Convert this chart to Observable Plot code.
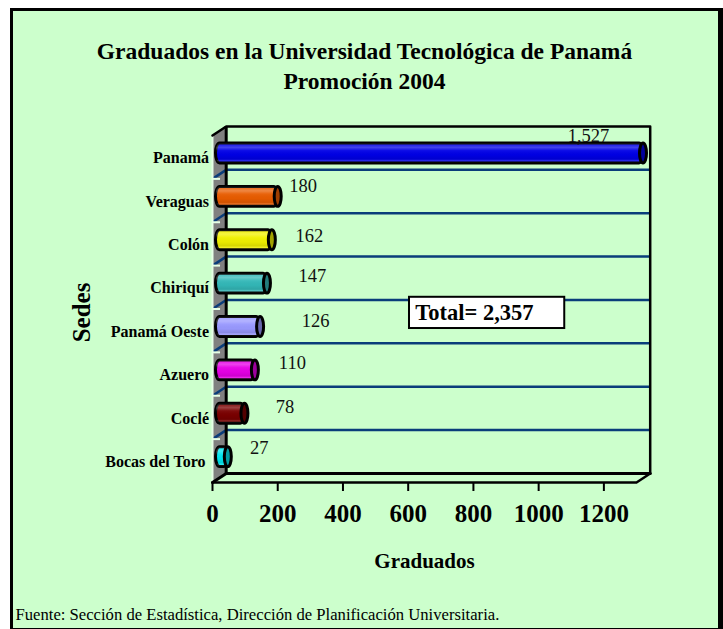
<!DOCTYPE html>
<html lang="es">
<head>
<meta charset="utf-8">
<title>Graduados en la Universidad Tecnológica de Panamá</title>
<script src="https://cdn.jsdelivr.net/npm/d3@7"></script>
<script src="https://cdn.jsdelivr.net/npm/@observablehq/plot@0.6"></script>
<style>
  html, body { margin: 0; padding: 0; background: #fff; width: 723px; height: 629px; overflow: hidden; }
  #panel { position: absolute; left: 10px; top: 8px; right: 0; bottom: 0; box-sizing: border-box;
           background: #ccffcc; border-style: solid; border-color: #000; border-width: 3px 5px 1px 3px; }
  #chart { position: absolute; left: 0; top: 0; }
  #chart svg { display: block; }
</style>
</head>
<body>
<div id="panel"></div>
<div id="chart"></div>
<script>
const categories = ["Panamá", "Veraguas", "Colón", "Chiriquí", "Panamá Oeste", "Azuero", "Coclé", "Bocas del Toro"];
const graduados = [1527, 180, 162, 147, 126, 110, 78, 27];
const barColors = ["#0000e6", "#e85c00", "#f0f000", "#33b8b8", "#9999ff", "#e600e6", "#7a0000", "#00e6f0"];
const xTicks = [0, 200, 400, 600, 800, 1000, 1200];
const titleLines = ["Graduados en la Universidad Tecnológica de Panamá", "Promoción 2004"];
const totalLabel = "Total= 2,357";
const xTitle = "Graduados";
const yTitle = "Sedes";
const source = "Fuente: Sección de Estadística, Dirección de Planificación Universitaria.";

const axisMax = 1300;            // the axis stops here: the longest bar is cut off at it
const depthX = 42, depthY = 0.2075; // depth of the 3-D box, in data units
const rows = d3.range(1, 8);
const data = categories.map((sede, i) => ({
  sede, row: i, value: graduados[i], color: barColors[i],
  cap: d3.color(barColors[i]).darker(1.1).formatHex()
}));
const barEnd = d => Math.min(d.value, axisMax);

// placement of each value label relative to its bar end, in pixels
const labelNudge = [[-48, -21], [32, -14], [44, -7.5], [52, -11], [62, -10], [44, -10.6], [47, -10], [38, -13]];

const sheen = () => {
  const defs = d3.create("svg:defs");
  const g = defs.append("linearGradient").attr("id", "sheen").attr("x1", 0).attr("y1", 0).attr("x2", 0).attr("y2", 1);
  [[0, "#fff", 0.04], [0.22, "#fff", 0.26], [0.38, "#fff", 0.05], [0.6, "#000", 0.02],
   [0.8, "#000", 0.1], [0.88, "#fff", 0.16], [1, "#000", 0.1]]
    .forEach(([o, c, a]) => g.append("stop").attr("offset", o).attr("stop-color", c).attr("stop-opacity", a));
  return defs.node();
};

const ink = "#000";
const bars = { y1: d => d.row + 0.27, y2: d => d.row + 0.73, dx: 7, dy: -3.7 };

const chart = Plot.plot({
  width: 723, height: 629,
  marginLeft: 212, marginRight: 87, marginTop: 135, marginBottom: 147,
  style: { background: "transparent", fontFamily: "'Liberation Serif', 'Times New Roman', serif", color: ink },
  x: { domain: [0, axisMax], label: null },
  y: { domain: [8, 0], label: null },
  color: { type: "identity" },
  marks: [
    sheen,
    // left wall
    Plot.line([[0, 0], [depthX, -depthY], [depthX, 8 - depthY], [0, 8]], { fill: "#808080", stroke: "none" }),
    Plot.link(rows, { x1: 0, y1: r => r, x2: depthX, y2: r => r - depthY, stroke: "#0a3d7a", strokeWidth: 2.5 }),
    Plot.ruleY(rows, { x1: depthX, x2: axisMax + depthX, y: r => r - depthY, stroke: "#0a3d7a", strokeWidth: 2.5 }),
    Plot.ruleX([0], { y1: 0, y2: 8, stroke: "#e6ffe6", strokeWidth: 2 }),
    Plot.link(rows, { x1: 0, y1: r => r, x2: depthX * 0.55, y2: r => r, stroke: "#e6ffe6", strokeWidth: 2 }),
    // box outline
    Plot.line([[0, 0], [depthX, -depthY], [axisMax + depthX, -depthY], [axisMax + depthX, 8 - depthY]],
      { stroke: ink, strokeWidth: 2.5 }),
    Plot.ruleX([depthX], { y1: -depthY, y2: 8 - depthY, stroke: ink, strokeWidth: 3 }),
    Plot.line([[0, 8], [depthX, 8 - depthY], [axisMax + depthX, 8 - depthY]], { stroke: ink, strokeWidth: 3 }),
    Plot.line([[0, 8], [axisMax, 8], [axisMax + depthX, 8 - depthY]], { stroke: ink, strokeWidth: 2.5 }),
    // cylinders
    Plot.rect(data, { ...bars, x1: 0, x2: barEnd, insetLeft: -3.5, fill: "color", stroke: ink, strokeWidth: 3, rx: 4, ry: 10 }),
    Plot.rect(data, { ...bars, x1: 0, x2: barEnd, insetLeft: -3.5, fill: "url(#sheen)", rx: 4, ry: 10 }),
    Plot.rect(data, { ...bars, x1: barEnd, x2: barEnd, insetLeft: -3.5, insetRight: -3.5, fill: "cap", stroke: ink, strokeWidth: 3, rx: 3.5, ry: 10 }),
    // value labels
    ...data.map((d, i) => Plot.text([d], {
      x: barEnd, y: v => v.row + 0.5, text: v => d3.format(",")(v.value),
      dx: labelNudge[i][0], dy: labelNudge[i][1], fontSize: 18.5, fill: "#111"
    })),
    // axes
    Plot.axisX({ anchor: "bottom", ticks: xTicks, tickFormat: "d", tickSize: 9, tickPadding: 12.5, fontSize: 25,
      fontWeight: "bold", strokeWidth: 2, label: null }),
    Plot.axisY({ anchor: "left", ticks: rows.map(r => r - 0.5), tickFormat: i => categories[i - 0.5], tickSize: 0, tickPadding: 3.5,
      dy: 1, fontSize: 16, fontWeight: "bold", label: null }),
    Plot.axisY({ anchor: "left", ticks: [7.5], tickFormat: i => categories[i - 0.5], tickSize: 0, tickPadding: 7,
      dy: 1, fontSize: 16, fontWeight: "bold", label: null }),
    // total box
    Plot.rect([totalLabel], { x1: 604, x2: 1080, y1: 3.73, y2: 4.45, fill: "#fff", stroke: ink, strokeWidth: 2 }),
    Plot.text([totalLabel], { x: 622, y: 4.09, text: d => d, textAnchor: "start", fontSize: 22.5, fontWeight: "bold" }),
    // titles
    ...titleLines.map((t, i) => Plot.text([t], { frameAnchor: "top", lineAnchor: "middle", dx: -60, dy: -84 + 30 * i,
      text: d => d, fontSize: 23.5, fontWeight: "bold" })),
    Plot.text([xTitle], { frameAnchor: "bottom", lineAnchor: "middle", dy: 79, text: d => d, fontSize: 21, fontWeight: "bold" }),
    Plot.text([yTitle], { frameAnchor: "left", textAnchor: "middle", lineAnchor: "middle", dx: -131, dy: 3.5, rotate: -90, text: d => d, fontSize: 25, fontWeight: "bold" }),
    Plot.text([source], { frameAnchor: "bottom-left", lineAnchor: "middle", textAnchor: "start", dx: -197, dy: 132, text: d => d, fontSize: 16.65 })
  ]
});
document.getElementById("chart").append(chart);
</script>
</body>
</html>
